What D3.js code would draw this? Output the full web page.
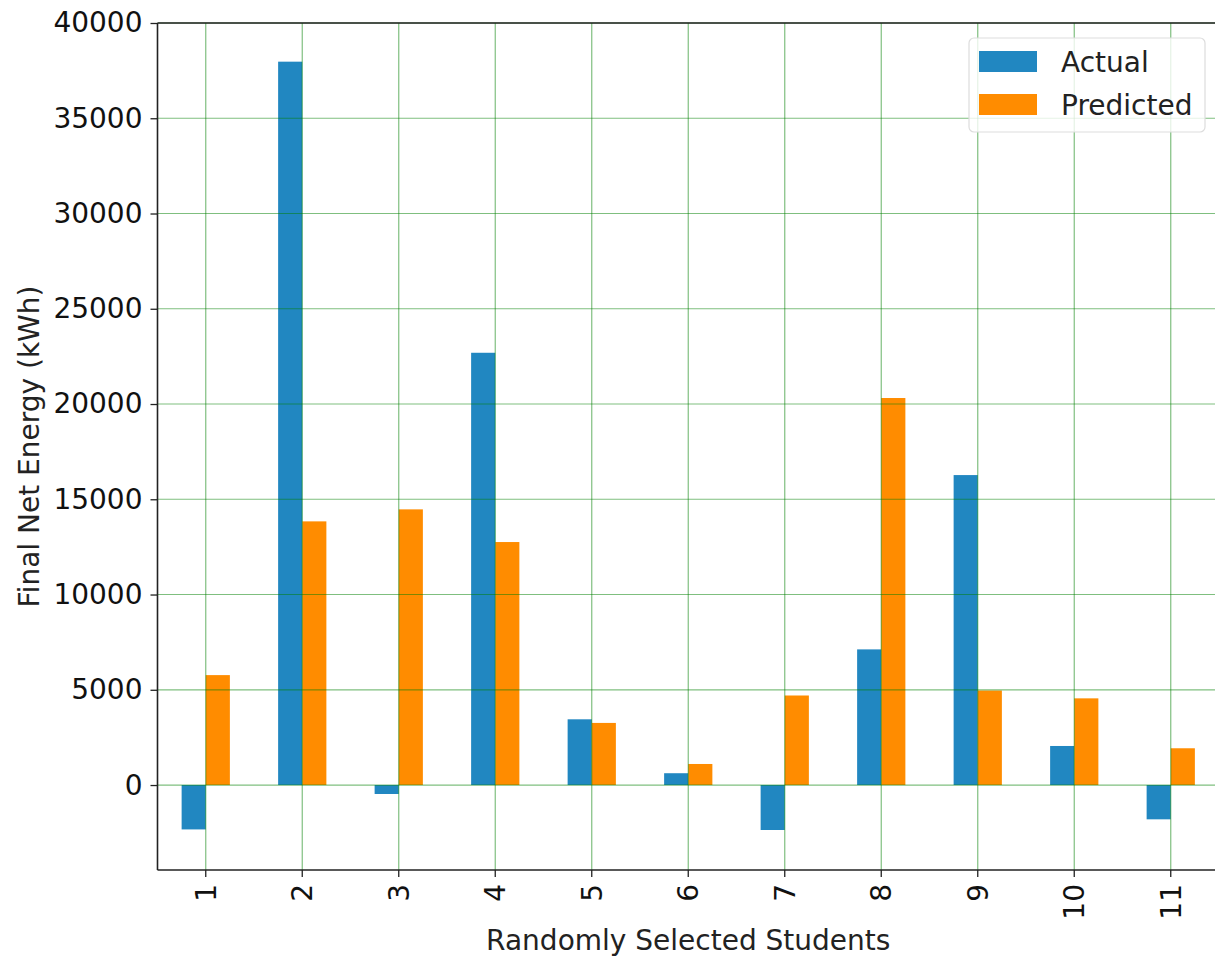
<!DOCTYPE html>
<html>
<head>
<meta charset="utf-8">
<script src="https://cdn.jsdelivr.net/npm/d3@7"></script>
<style>
  html, body { margin: 0; padding: 0; background: #fff; }
  svg { display: block; font-family: "DejaVu Sans", sans-serif; }
</style>
</head>
<body>
<svg id="chart" width="1215" height="959"></svg>
<script>
const categories = ["1","2","3","4","5","6","7","8","9","10","11"];
const actual =    [-2330, 37970, -470, 22690, 3450, 620, -2360, 7120, 16270, 2050, -1800];
const predicted = [5770, 13840, 14470, 12755, 3260, 1105, 4700, 20315, 4960, 4550, 1930];
const seriesNames = ["Actual", "Predicted"];
const seriesColors = ["#2187c1", "#ff8c00"];
const yTicks = [0, 5000, 10000, 15000, 20000, 25000, 30000, 35000, 40000];

(function () {
const svg = d3.select("#chart");
const pL = 157.5, pR = 1219, pT = 23, pB = 870;
const fs = 28;

const x = d3.scaleBand().domain(categories).range([pL, pR]).paddingInner(0.5).paddingOuter(0.25);
const xc = d => x(d) + x.bandwidth() / 2;
const y = d3.scaleLinear().domain([-4460, 40000]).range([pB, pT]);
const step = x.step();
const bw = step * 0.25;

const data = categories.map((c, i) => ({c, vals: [actual[i], predicted[i]]}));

// bars
seriesNames.forEach((s, si) => {
  svg.append("g").selectAll("rect").data(data).join("rect")
    .attr("x", d => xc(d.c) - bw + si * bw)
    .attr("width", bw)
    .attr("y", d => y(Math.max(0, d.vals[si])))
    .attr("height", d => Math.abs(y(d.vals[si]) - y(0)))
    .attr("fill", seriesColors[si]);
});

// grid (on top of bars)
const grid = svg.append("g").attr("stroke", "#008000").attr("stroke-opacity", 0.5).attr("stroke-width", 1.2);
grid.selectAll("line.h").data(yTicks).join("line")
  .attr("x1", pL).attr("x2", pR)
  .attr("y1", d => y(d)).attr("y2", d => y(d));
grid.selectAll("line.v").data(categories).join("line")
  .attr("x1", d => xc(d)).attr("x2", d => xc(d))
  .attr("y1", pT).attr("y2", pB);

// axes
const yAxis = svg.append("g").attr("transform", `translate(${pL},0)`)
  .call(d3.axisLeft(y).tickValues(yTicks).tickSize(7).tickPadding(8).tickFormat(d3.format("d")));
yAxis.select(".domain").remove();
yAxis.selectAll("line").attr("stroke", "#222").attr("stroke-width", 1.3);
yAxis.selectAll("text").attr("font-size", fs).attr("fill", "#111").attr("font-family", "DejaVu Sans");

const xAxis = svg.append("g").attr("transform", `translate(0,${pB})`)
  .call(d3.axisBottom(x).tickSize(7).tickPadding(0));
xAxis.select(".domain").remove();
xAxis.selectAll("line").attr("stroke", "#222").attr("stroke-width", 1.3);
xAxis.selectAll("text")
  .attr("font-size", fs).attr("fill", "#111").attr("font-family", "DejaVu Sans")
  .attr("text-anchor", "end").attr("dy", "0.35em")
  .attr("transform", "translate(0,14) rotate(-90)")
  .attr("x", 0).attr("y", 0);

// spines
const sp = svg.append("g").attr("stroke", "#222").attr("stroke-width", 1.6).attr("fill", "none");
sp.append("line").attr("x1", pL).attr("x2", pL).attr("y1", pT).attr("y2", pB);
sp.append("line").attr("x1", pL).attr("x2", pR).attr("y1", pT).attr("y2", pT);
sp.append("line").attr("x1", pL).attr("x2", pR).attr("y1", pB).attr("y2", pB);

// axis labels
svg.append("text").attr("x", (pL + pR) / 2).attr("y", 950)
  .attr("text-anchor", "middle").attr("font-size", fs).attr("fill", "#222")
  .text("Randomly Selected Students");
svg.append("text").attr("transform", `translate(39,${(pT + pB) / 2}) rotate(-90)`)
  .attr("text-anchor", "middle").attr("font-size", fs).attr("fill", "#222")
  .text("Final Net Energy (kWh)");

// legend
const lg = svg.append("g");
lg.append("rect").attr("x", 969).attr("y", 38).attr("width", 236).attr("height", 94)
  .attr("rx", 5).attr("fill", "#fff").attr("fill-opacity", 0.8)
  .attr("stroke", "#ddd").attr("stroke-width", 1.2);
seriesNames.forEach((s, i) => {
  lg.append("rect").attr("x", 979).attr("y", 51 + i * 43).attr("width", 58).attr("height", 21)
    .attr("fill", seriesColors[i]);
  lg.append("text").attr("x", 1061).attr("y", 62 + i * 43).attr("dy", "0.35em")
    .attr("font-size", fs).attr("fill", "#222").text(s);
});
})();
</script>
</body>
</html>
